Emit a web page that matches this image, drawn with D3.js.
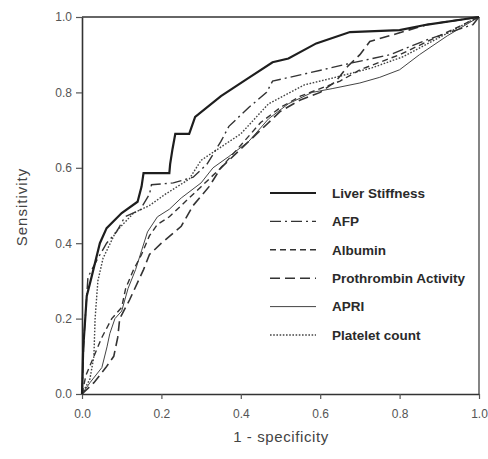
<!DOCTYPE html>
<html>
<head>
<meta charset="utf-8">
<script src="https://cdn.jsdelivr.net/npm/d3@7"></script>
<style>
  body { margin: 0; background: #fff; }
  svg { font-family: "Liberation Sans", Arial, sans-serif; }
</style>
</head>
<body>
<div id="chart"></div>
<script>
// ROC curves, values as [1 - specificity, sensitivity]
var liverStiffness = [[0,0],[0.003,0.12],[0.012,0.26],[0.024,0.31],[0.045,0.4],[0.062,0.44],[0.1,0.48],[0.14,0.51],[0.15,0.55],[0.155,0.586],[0.22,0.586],[0.222,0.61],[0.228,0.65],[0.235,0.69],[0.27,0.69],[0.285,0.735],[0.35,0.79],[0.415,0.835],[0.48,0.88],[0.52,0.89],[0.59,0.93],[0.675,0.96],[0.8,0.965],[0.87,0.98],[1,1]];
var afp = [[0,0],[0.005,0.15],[0.015,0.31],[0.04,0.36],[0.062,0.4],[0.087,0.43],[0.108,0.47],[0.146,0.488],[0.17,0.53],[0.175,0.555],[0.23,0.56],[0.28,0.575],[0.315,0.61],[0.35,0.67],[0.37,0.71],[0.42,0.76],[0.465,0.8],[0.48,0.83],[0.565,0.85],[0.675,0.877],[0.776,0.9],[0.87,0.94],[0.985,0.98],[1,1]];
var albumin = [[0,0],[0.01,0.05],[0.03,0.1],[0.05,0.15],[0.075,0.2],[0.1,0.23],[0.11,0.28],[0.13,0.33],[0.15,0.37],[0.17,0.42],[0.19,0.45],[0.22,0.47],[0.25,0.5],[0.3,0.55],[0.35,0.6],[0.4,0.66],[0.45,0.72],[0.5,0.76],[0.55,0.79],[0.6,0.81],[0.65,0.83],[0.7,0.86],[0.8,0.9],[0.9,0.95],[1,1]];
var prothrombin = [[0,0],[0.03,0.03],[0.06,0.07],[0.08,0.1],[0.09,0.15],[0.095,0.2],[0.12,0.25],[0.155,0.33],[0.17,0.37],[0.2,0.4],[0.25,0.445],[0.28,0.5],[0.32,0.55],[0.35,0.6],[0.4,0.65],[0.45,0.7],[0.5,0.75],[0.55,0.78],[0.6,0.8],[0.64,0.83],[0.67,0.87],[0.7,0.9],[0.725,0.935],[0.79,0.955],[0.87,0.98],[1,1]];
var apri = [[0,0],[0.02,0.03],[0.05,0.07],[0.063,0.125],[0.07,0.16],[0.083,0.2],[0.1,0.22],[0.116,0.28],[0.135,0.33],[0.15,0.38],[0.165,0.43],[0.19,0.47],[0.22,0.49],[0.25,0.52],[0.3,0.56],[0.33,0.6],[0.37,0.63],[0.42,0.67],[0.47,0.73],[0.52,0.77],[0.58,0.8],[0.63,0.81],[0.7,0.825],[0.75,0.84],[0.8,0.86],[0.85,0.9],[0.92,0.95],[1,1]];
var plateletCount = [[0,0],[0.02,0.04],[0.03,0.1],[0.033,0.2],[0.04,0.3],[0.053,0.36],[0.085,0.43],[0.13,0.48],[0.17,0.5],[0.21,0.53],[0.27,0.57],[0.3,0.62],[0.4,0.69],[0.47,0.77],[0.56,0.82],[0.62,0.835],[0.73,0.865],[0.81,0.895],[0.89,0.94],[0.98,0.99],[1,1]];

var seriesNames = ["Liver Stiffness", "AFP", "Albumin", "Prothrombin Activity", "APRI", "Platelet count"];
var seriesData = [liverStiffness, afp, albumin, prothrombin, apri, plateletCount];
var tickValues = [0, 0.2, 0.4, 0.6, 0.8, 1.0];

// line look for each series
var styles = [
    {width: 2.2, dash: null, color: "#1e1e1e"},
    {width: 1.4, dash: "11,4,2,4", color: "#333"},
    {width: 1.4, dash: "6,4", color: "#333"},
    {width: 1.6, dash: "10,5", color: "#333"},
    {width: 1.0, dash: null, color: "#444"},
    {width: 1.4, dash: "1.6,1.6", color: "#444"}
];

var width = 488, height = 459;
var svg = d3.select("#chart").append("svg")
    .attr("width", width)
    .attr("height", height);

var x = d3.scaleLinear().domain([0, 1]).range([82, 479]);
var y = d3.scaleLinear().domain([0, 1]).range([394, 17]);

// frame: top and right
svg.append("line").attr("x1", x(0)).attr("x2", x(1)).attr("y1", y(1)).attr("y2", y(1))
    .attr("stroke", "#333").attr("stroke-width", 1.4);
svg.append("line").attr("x1", x(1)).attr("x2", x(1)).attr("y1", y(0)).attr("y2", y(1))
    .attr("stroke", "#333").attr("stroke-width", 1.2);

var xAxis = d3.axisBottom(x).tickValues(tickValues).tickFormat(d3.format(".1f")).tickSize(5).tickSizeOuter(0);
var yAxis = d3.axisLeft(y).tickValues(tickValues).tickFormat(d3.format(".1f")).tickSize(6).tickSizeOuter(0);

var gx = svg.append("g").attr("transform", "translate(0," + y(0) + ")").call(xAxis);
var gy = svg.append("g").attr("transform", "translate(" + x(0) + ",0)").call(yAxis);

[gx, gy].forEach(function (g) {
    g.select(".domain").attr("stroke", "#333").attr("stroke-width", 1.6);
    g.selectAll(".tick line").attr("stroke", "#555").attr("stroke-width", 1.2);
    g.selectAll(".tick text")
        .attr("fill", "#555")
        .style("font-size", "12px")
        .style("font-family", "'Liberation Sans', Arial, sans-serif");
});
gx.selectAll(".tick text").attr("dy", "1.35em");
gy.selectAll(".tick text").attr("x", -10);

// axis titles
svg.append("text")
    .attr("x", 281).attr("y", 442)
    .attr("text-anchor", "middle")
    .attr("fill", "#444")
    .style("font-size", "15px")
    .style("letter-spacing", "0.6px")
    .text("1 - specificity");

svg.append("text")
    .attr("transform", "translate(27,207) rotate(-90)")
    .attr("text-anchor", "middle")
    .attr("fill", "#444")
    .style("font-size", "15px")
    .style("letter-spacing", "1px")
    .text("Sensitivity");

// curves
var line = d3.line()
    .x(function (d) { return x(d[0]); })
    .y(function (d) { return y(d[1]); });

var curves = svg.append("g");
// draw thin ones first, liver stiffness on top
for (var i = seriesData.length - 1; i >= 0; i--) {
    curves.append("path")
        .datum(seriesData[i])
        .attr("d", line)
        .attr("fill", "none")
        .attr("stroke", styles[i].color)
        .attr("stroke-width", styles[i].width)
        .attr("stroke-dasharray", styles[i].dash)
        .attr("stroke-linejoin", "miter");
}

// legend
var legend = svg.selectAll(".legend")
    .data(seriesNames)
    .enter().append("g")
    .attr("class", "legend")
    .attr("transform", function (d, i) { return "translate(270," + (193 + i * 28.4) + ")"; });

legend.append("line")
    .attr("x1", 0).attr("x2", 46)
    .attr("stroke", function (d, i) { return styles[i].color; })
    .attr("stroke-width", function (d, i) { return styles[i].width; })
    .attr("stroke-dasharray", function (d, i) { return styles[i].dash; });

legend.append("text")
    .attr("x", 62).attr("dy", "0.36em")
    .attr("fill", "#2a2a2a")
    .style("font-size", "13.5px")
    .style("font-weight", "bold")
    .text(function (d) { return d; });
</script>
</body>
</html>
